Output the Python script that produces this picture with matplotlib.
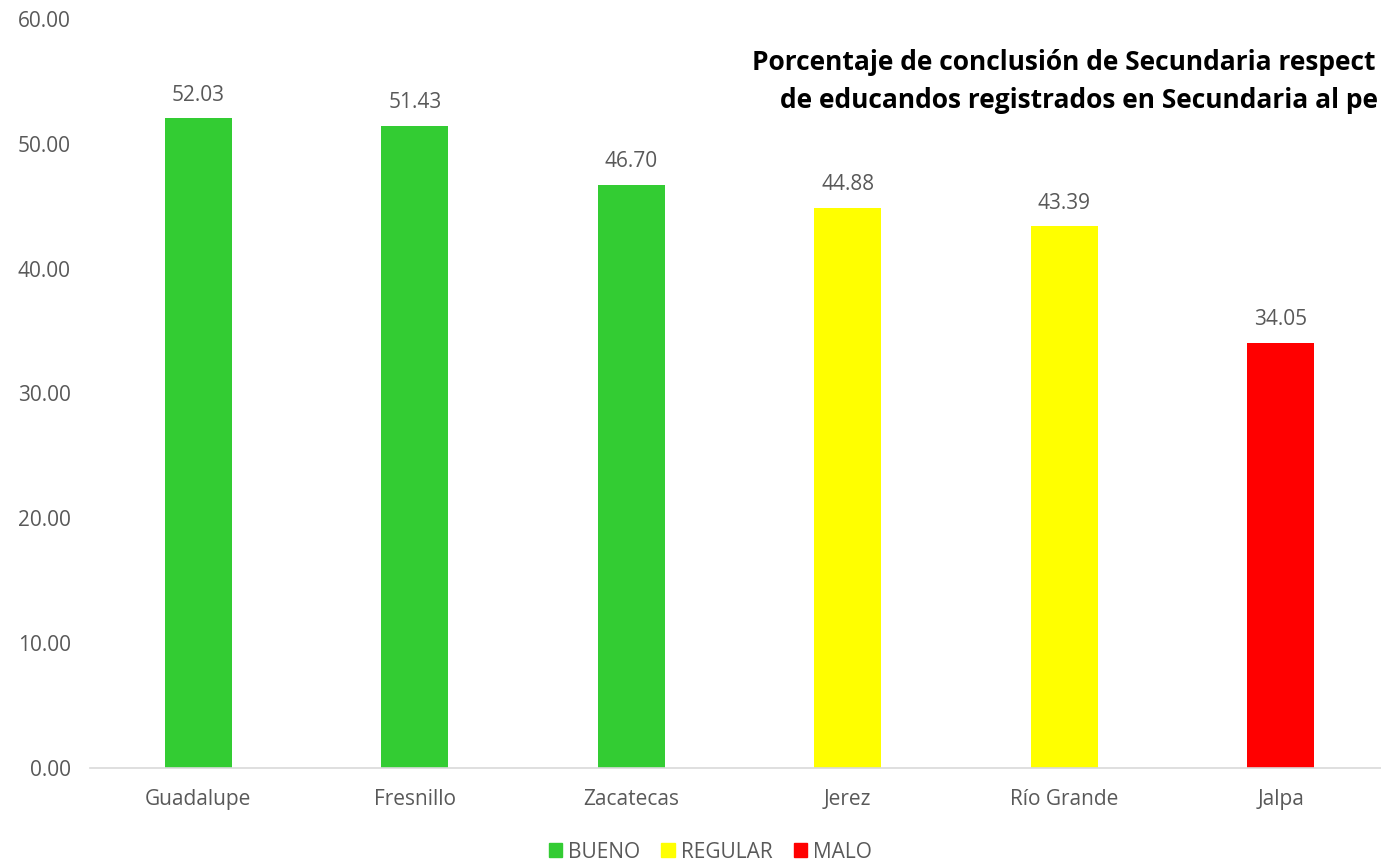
import matplotlib.pyplot as plt
from matplotlib.patches import Patch

municipios = ['Guadalupe', 'Fresnillo', 'Zacatecas', 'Jerez', 'Río Grande', 'Jalpa']
porcentajes = [52.03, 51.43, 46.70, 44.88, 43.39, 34.05]
niveles = ['BUENO', 'BUENO', 'BUENO', 'REGULAR', 'REGULAR', 'MALO']
colores_nivel = {'BUENO': '#33CC33', 'REGULAR': '#FFFF00', 'MALO': '#FF0000'}
# title as visible in the original (cut at the right edge)
titulo_1 = 'Porcentaje de conclusión de Secundaria respect'
titulo_2 = 'de educandos registrados en Secundaria al pe'

gris = '#595959'
plt.rcParams['font.family'] = ['Open Sans', 'DejaVu Sans']

fig = plt.figure(figsize=(13.81, 8.63), dpi=100)
ax = fig.add_axes([0.0652, 0.1101, 0.9406, 0.868])

x = range(len(municipios))
ax.bar(x, porcentajes, width=0.31, color=[colores_nivel[n] for n in niveles])
for i, v in zip(x, porcentajes):
    ax.text(i, v + 1.0, f'{v:.2f}', ha='center', va='bottom', fontsize=15, color=gris)

ax.set_xlim(-0.5, len(municipios) - 0.5)
ax.set_ylim(0, 60)
ax.set_yticks(range(0, 61, 10))
ax.set_yticklabels([f'{t:.2f}' for t in range(0, 61, 10)])
ax.set_xticks(list(x))
ax.set_xticklabels(municipios)
ax.tick_params(axis='both', length=0, labelsize=15, colors=gris)
ax.tick_params(axis='x', pad=15)
ax.tick_params(axis='y', pad=14)
for s in ['top', 'right', 'left']:
    ax.spines[s].set_visible(False)
ax.spines['bottom'].set_color('#D9D9D9')
ax.spines['bottom'].set_linewidth(1.2)

fig.text(752 / 1381, 1 - 62 / 863, titulo_1,
         ha='left', va='center', fontsize=19, fontweight='bold', color='black')
fig.text(780 / 1381, 1 - 101 / 863, titulo_2,
         ha='left', va='center', fontsize=19, fontweight='bold', color='black')

handles = [Patch(color=colores_nivel[k]) for k in ['BUENO', 'REGULAR', 'MALO']]
fig.legend(handles, ['BUENO', 'REGULAR', 'MALO'], loc='center',
           bbox_to_anchor=(0.5 + 20 / 1381, 1 - 852 / 863),
           ncol=3, frameon=False, fontsize=15, handlelength=0.65, handleheight=0.65,
           handletextpad=0.3, columnspacing=1.0, labelcolor=gris)

fig.savefig('out.png', dpi=100)
